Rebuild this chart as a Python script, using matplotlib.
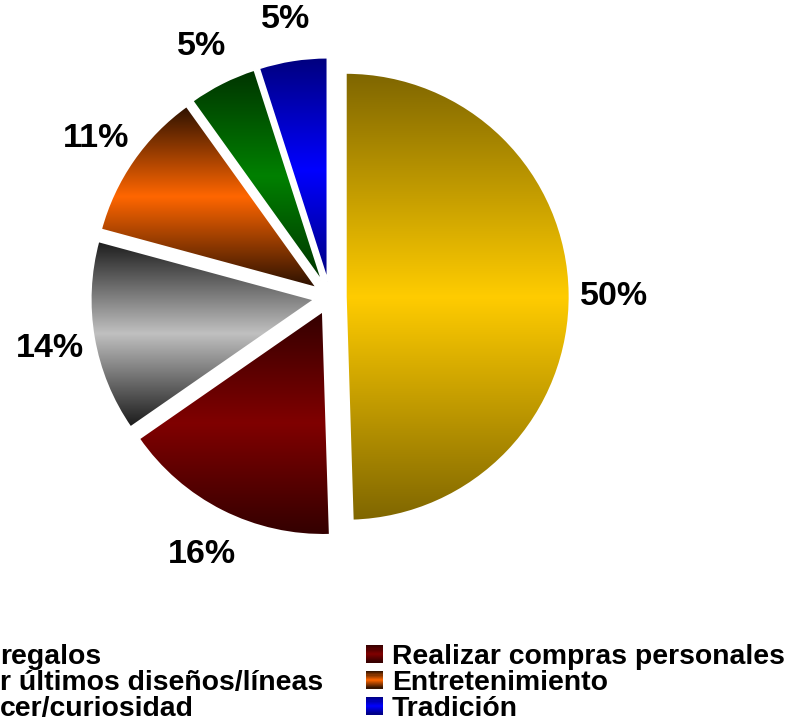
import matplotlib
matplotlib.use("Agg")
import matplotlib.pyplot as plt
import numpy as np
from matplotlib.colors import to_rgb
from matplotlib.legend_handler import HandlerBase
from matplotlib.patches import Rectangle
from matplotlib.font_manager import FontProperties

# ---- data ----
# legend texts as they appear in the chart (left column is clipped at the figure edge)
categories = ["regalos", "Realizar compras personales",
              "r últimos diseños/líneas", "Entretenimiento",
              "cer/curiosidad", "Tradición"]
values = [50, 16, 14, 11, 5, 5]
pct_labels = ["50%", "16%", "14%", "11%", "5%", "5%"]
bright = ["#FFCC00", "#800000", "#C0C0C0", "#FF6600", "#008000", "#0000FF"]
dark = ["#7F6600", "#330000", "#1A1A1A", "#2A1000", "#003300", "#00007F"]


def ramp(b, d, t):
    b = np.array(to_rgb(b)); d = np.array(to_rgb(d))
    f = 1 - abs(2 * t - 1)
    return d + (b - d) * f


W, H, DPI = 792, 720, 100
fig = plt.figure(figsize=(W / DPI, H / DPI), dpi=DPI)
fig.patch.set_facecolor("white")
ax = fig.add_axes([0, 0, 1, 1])
R = 224.0
cx, cy = 330.0, H - 297.0
xlim = (-cx / R, (W - cx) / R)
ylim = (-cy / R, (H - cy) / R)

lab_iter = iter(pct_labels)
wedges, texts, autotexts = ax.pie(
    values, startangle=90, counterclock=False, explode=[0.07] * 6,
    colors=bright, autopct=lambda p: next(lab_iter), pctdistance=1.2,
    wedgeprops=dict(edgecolor="white", linewidth=1.5),
    textprops=dict(family="Liberation Sans", weight="bold", fontsize=24.5, color="black"))
for a in autotexts:
    a.set_verticalalignment("center_baseline")

for w, b, d in zip(wedges, bright, dark):
    c = np.array(w.center)
    th = np.radians(np.linspace(w.theta1, w.theta2, 200))
    xs = np.concatenate([[c[0]], c[0] + w.r * np.cos(th)])
    ys = np.concatenate([[c[1]], c[1] + w.r * np.sin(th)])
    n = 256
    t = np.linspace(0, 1, n)
    img = np.array([ramp(b, d, ti) for ti in t]).reshape(n, 1, 3)
    im = ax.imshow(img, extent=[xs.min(), xs.max(), ys.min(), ys.max()],
                   origin="upper", aspect="auto", interpolation="bilinear", zorder=1)
    im.set_clip_path(w)
    w.set_facecolor("none")
    w.set_zorder(2)

ax.set_xlim(*xlim)
ax.set_ylim(*ylim)
ax.axis("off")


class GradHandler(HandlerBase):
    def __init__(self, b, d):
        super().__init__()
        self.b, self.d = b, d

    def create_artists(self, legend, orig_handle, xdescent, ydescent,
                       width, height, fontsize, trans):
        n = 16
        arts = []
        for i in range(n):
            tt = (i + 0.5) / n
            y0 = -ydescent + height * (1 - (i + 1) / n)
            r = Rectangle((-xdescent, y0), width, height / n * 1.08,
                          facecolor=ramp(self.b, self.d, tt), edgecolor="none",
                          linewidth=0, transform=trans)
            arts.append(r)
        return arts


order = [0, 2, 4, 1, 3, 5]
handles = [Rectangle((0, 0), 1, 1) for _ in categories]
hmap = {handles[i]: GradHandler(bright[i], dark[i]) for i in range(len(categories))}
fs = 20.4
fs_px = fs * DPI / 72
fp = FontProperties(family="Liberation Sans", weight="bold", size=fs)

params = dict(x0=-0.05, y0=0.13, cs=2.0, ls=-0.2)
leg = None
for it in range(4):
    if leg is not None:
        leg.remove()
    leg = ax.legend([handles[i] for i in order], [categories[i] for i in order],
                    handler_map=hmap, ncol=2, loc="upper left",
                    bbox_to_anchor=(params["x0"], params["y0"]),
                    bbox_transform=fig.transFigure, frameon=False, prop=fp,
                    handlelength=17 / fs_px, handleheight=16 / fs_px,
                    handletextpad=9 / fs_px, columnspacing=params["cs"],
                    labelspacing=params["ls"], borderpad=0, borderaxespad=0)
    fig.canvas.draw()
    r = fig.canvas.get_renderer()
    tx = leg.get_texts()
    e0 = tx[0].get_window_extent(r)   # left col first text
    e3 = tx[3].get_window_extent(r)   # right col first text
    e4 = tx[4].get_window_extent(r)
    gap = e3.x0 - e0.x0
    pitch = e3.y0 - e4.y0
    params["cs"] += (392 - gap) / fs_px
    params["ls"] += (26 - pitch) / fs_px
    desc = 0.21 * fs_px
    params["x0"] += (392 - e3.x0) / W
    params["y0"] += ((H - 664 - desc) - e3.y0) / H

fig.savefig("out.png", dpi=DPI, facecolor="white")
